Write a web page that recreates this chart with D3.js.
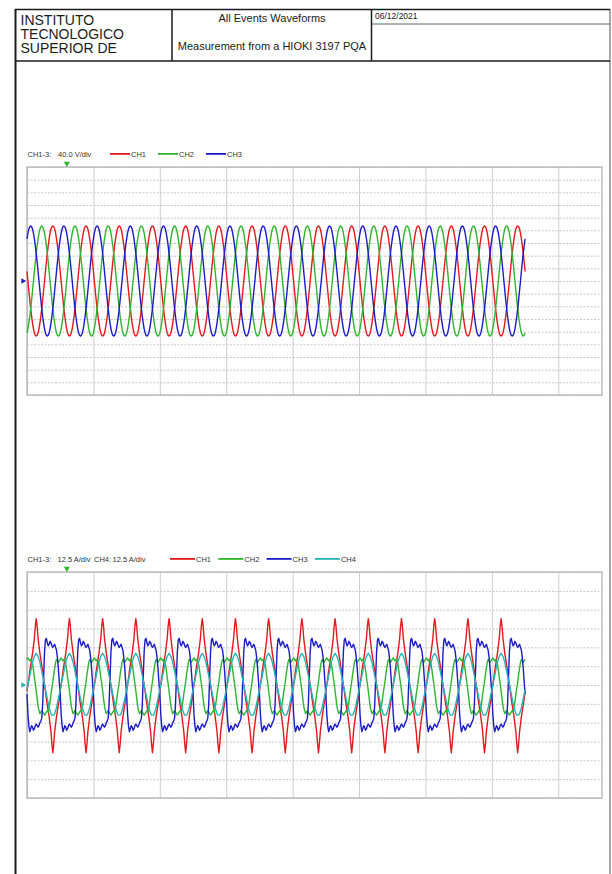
<!DOCTYPE html>
<html>
<head>
<meta charset="utf-8">
<script src="https://cdn.jsdelivr.net/npm/d3@7"></script>
<style>
  body { margin: 0; background: #fff; }
  svg { display: block; }
</style>
</head>
<body>
<svg id="page" width="612" height="874"></svg>
<script>
// ---- header text ----
const headerLeft = ["INSTITUTO", "TECNOLOGICO", "SUPERIOR DE"];
const headerTitle = "All Events Waveforms";
const headerSubtitle = "Measurement from a HIOKI 3197 PQA";
const headerDate = "06/12/2021";

// ---- time base (60 Hz, 15 cycles recorded) ----
const cycleMs = 1000 / 60;
const cycles = 15;
const samplesPerCycle = 36; // one sample every 10 deg
const msPerDiv = 33.33;
const timeMaxMs = 288.6;
const triggerMs = 20;

// ---- voltage channels ----
const voltChannels = ["CH1", "CH2", "CH3"];
const voltScaleText = ["CH1-3:", "40.0 V/div"];
const voltPerDiv = 40;
const voltDivs = 18;
// one cycle, starting at the positive peak (V)
const voltCycle = [174, 171, 164, 151, 133, 112, 87, 60, 30, 0, -30, -60,
  -87, -112, -133, -151, -164, -171, -174, -171, -164, -151, -133, -112,
  -87, -60, -30, 0, 30, 60, 87, 112, 133, 151, 164, 171];
// sample offset of each channel into voltCycle at t = 0
const voltShift = [8, 20, 32];

// ---- current channels (A), one cycle each starting at t = 0 ----
const ampChannels = ["CH1", "CH2", "CH3", "CH4"];
const ampScaleText = ["CH1-3:", "12.5 A/div", "CH4:", "12.5 A/div"];
const ampPerDiv = 12.5;
const ampDivs = 12;
const ch1Cycle = [-4, 0, 4, 9, 13, 17, 21, 26, 31, 39, 44, 39, 31, 26, 21, 17, 13, 9,
  4, 0, -4, -9, -13, -17, -21, -26, -31, -39, -45, -39, -31, -26, -21, -17, -13, -9];
const ch2Cycle = [17, 18, 17, 16, 17, 16, 14, 10, 5, 1, -4, -9, -14, -17, -19, -18, -17, -18,
  -19, -20, -19, -18, -17, -18, -15, -11, -6, -2, 2, 7, 11, 15, 17, 16, 15, 16];
const ch3Cycle = [-6, -19, -27, -31, -29, -27, -28, -30, -29, -27, -26, -27, -28, -27, -25, -24, -22, -13,
  5, 22, 30, 31, 28, 26, 27, 29, 28, 26, 25, 26, 27, 25, 23, 18, 11, 2];
const ch4Cycle = [-3, 0, 3, 6, 9, 12, 15, 17, 19, 20, 21, 20, 19, 17, 15, 12, 9, 6,
  3, 0, -3, -6, -9, -12, -15, -17, -19, -20, -20, -20, -19, -17, -15, -12, -9, -6];

const colors = { CH1: "#e3191d", CH2: "#2eb52e", CH3: "#1c1cc6", CH4: "#24b5b8" };
const font = "'Liberation Sans', Arial, sans-serif";
const ink = "#1b1b1b";

const svg = d3.select("#page");
svg.append("rect").attr("width", 612).attr("height", 874).attr("fill", "#fff");

// ---- page frame + header ----
const frame = svg.append("g").attr("stroke", ink).attr("fill", "none");
frame.append("line").attr("x1", 15.5).attr("x2", 15.5).attr("y1", 9).attr("y2", 874).attr("stroke-width", 2);
frame.append("line").attr("x1", 610).attr("x2", 610).attr("y1", 9).attr("y2", 874).attr("stroke-width", 1).attr("stroke", "#555");
frame.append("line").attr("x1", 15).attr("x2", 610).attr("y1", 9.5).attr("y2", 9.5).attr("stroke-width", 1.5);
frame.append("line").attr("x1", 15).attr("x2", 610).attr("y1", 61).attr("y2", 61).attr("stroke-width", 1.5);
frame.append("line").attr("x1", 172).attr("x2", 172).attr("y1", 9).attr("y2", 61).attr("stroke-width", 1.5);
frame.append("line").attr("x1", 371.5).attr("x2", 371.5).attr("y1", 9).attr("y2", 61).attr("stroke-width", 1.5);
frame.append("line").attr("x1", 372).attr("x2", 610).attr("y1", 24).attr("y2", 24).attr("stroke-width", 1).attr("stroke", "#666");

svg.append("g").selectAll("text").data(headerLeft).join("text")
  .attr("x", 20.5).attr("y", (d, i) => 25 + i * 14.2)
  .attr("font-family", font).attr("font-size", 14).attr("fill", ink)
  .text(d => d);

svg.append("text").attr("x", 272).attr("y", 21.7).attr("text-anchor", "middle")
  .attr("font-family", font).attr("font-size", 11).attr("fill", ink).text(headerTitle);
svg.append("text").attr("x", 272).attr("y", 49.5).attr("text-anchor", "middle")
  .attr("font-family", font).attr("font-size", 11).attr("fill", ink).text(headerSubtitle);
svg.append("text").attr("x", 375).attr("y", 18.5)
  .attr("font-family", font).attr("font-size", 8.5).attr("fill", ink).text(headerDate);

// ---- helpers ----
function buildSeries(cycleValues) {
  const pts = [];
  for (let c = 0; c < cycles; c++) {
    cycleValues.forEach((v, k) => {
      pts.push({ t: ((c * samplesPerCycle + k) * cycleMs) / samplesPerCycle, v: v });
    });
  }
  pts.push({ t: cycles * cycleMs, v: cycleValues[0] });
  return pts;
}

const plotLeft = 27, plotRight = 602;
const x = d3.scaleLinear().domain([0, timeMaxMs]).range([plotLeft, plotRight]);

function drawScope(opts) {
  const g = svg.append("g");
  const { top, bottom, perDiv, divs, series, zeroColor } = opts;
  const half = (perDiv * divs) / 2;
  const y = d3.scaleLinear().domain([-half, half]).range([bottom, top]);

  // vertical grid
  g.append("g")
    .attr("transform", `translate(0,${bottom})`)
    .call(d3.axisBottom(x).tickValues(d3.range(0, timeMaxMs, msPerDiv)).tickSize(-(bottom - top)).tickFormat(""))
    .call(a => a.select(".domain").remove())
    .call(a => a.selectAll("line").attr("stroke", "#cfcfcf").attr("stroke-width", 1));

  // horizontal grid
  g.append("g")
    .attr("transform", `translate(${plotLeft},0)`)
    .call(d3.axisLeft(y).tickValues(d3.range(-half, half + 0.001, perDiv)).tickSize(-(plotRight - plotLeft)).tickFormat(""))
    .call(a => a.select(".domain").remove())
    .call(a => a.selectAll("line").attr("stroke", "#c6c6c6").attr("stroke-width", 1).attr("stroke-dasharray", "2,1.5"));

  g.append("rect")
    .attr("x", plotLeft).attr("y", top)
    .attr("width", plotRight - plotLeft).attr("height", bottom - top)
    .attr("fill", "none").attr("stroke", "#b4b4b4").attr("stroke-width", 1.3);

  const line = d3.line().x(d => x(d.t)).y(d => y(d.v));
  series.forEach(s => {
    g.append("path")
      .datum(s.values)
      .attr("fill", "none")
      .attr("stroke", colors[s.name])
      .attr("stroke-width", 1.4)
      .attr("stroke-linejoin", "round")
      .attr("d", line);
  });

  // trigger marker
  g.append("path")
    .attr("d", d3.symbol(d3.symbolTriangle, 16)())
    .attr("transform", `translate(${x(triggerMs)},${top - 3.5}) rotate(180)`)
    .attr("fill", colors.CH2);

  // zero level marker
  g.append("path")
    .attr("d", d3.symbol(d3.symbolTriangle, 14)())
    .attr("transform", `translate(${plotLeft - 4},${y(0)}) rotate(90)`)
    .attr("fill", zeroColor);

  // legend
  const lg = g.append("g").attr("font-family", font).attr("font-size", 7.5).attr("fill", "#333");
  const base = top - 10.5;
  opts.scaleText.forEach((t, i) => {
    lg.append("text").attr("x", opts.scaleX[i]).attr("y", base).text(t);
  });
  series.forEach((s, i) => {
    const lx = opts.legendX + i * opts.legendStep;
    lg.append("line")
      .attr("x1", lx).attr("x2", lx + opts.legendLen)
      .attr("y1", base - 2.6).attr("y2", base - 2.6)
      .attr("stroke", colors[s.name]).attr("stroke-width", 1.8);
    lg.append("text").attr("x", lx + opts.legendLen + 1).attr("y", base).text(s.name);
  });
}

// ---- voltage scope ----
const voltSeries = voltChannels.map((name, i) => ({
  name: name,
  values: buildSeries(d3.range(samplesPerCycle).map(k => voltCycle[(k + voltShift[i]) % samplesPerCycle]))
}));

drawScope({
  top: 167, bottom: 395,
  perDiv: voltPerDiv, divs: voltDivs,
  series: voltSeries, zeroColor: colors.CH3,
  scaleText: voltScaleText, scaleX: [27.5, 58],
  legendX: 110, legendStep: 48, legendLen: 20
});

// ---- current scope ----
const ampCycles = [ch1Cycle, ch2Cycle, ch3Cycle, ch4Cycle];
const ampSeries = ampChannels.map((name, i) => ({ name: name, values: buildSeries(ampCycles[i]) }));

drawScope({
  top: 572, bottom: 798,
  perDiv: ampPerDiv, divs: ampDivs,
  series: ampSeries, zeroColor: colors.CH4,
  scaleText: ampScaleText, scaleX: [27.5, 57.5, 94, 112.5],
  legendX: 170, legendStep: 48.3, legendLen: 25
});
</script>
</body>
</html>
